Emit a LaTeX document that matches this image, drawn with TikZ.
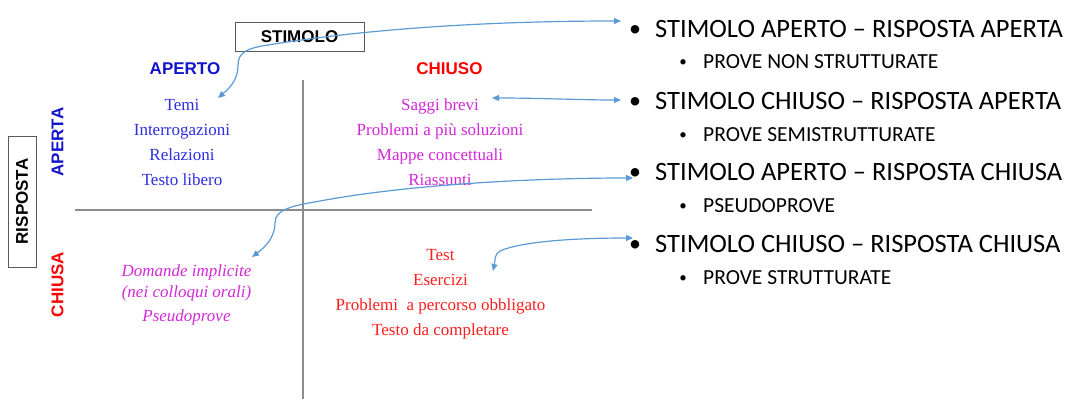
\documentclass[tikz,border=0pt]{standalone}
\usepackage{fontspec}
\setmainfont{Liberation Serif}
\newfontfamily\arialf{Liberation Sans}
\newfontfamily\calif{Carlito}
\usetikzlibrary{arrows.meta}
\definecolor{lblblue}{RGB}{20,20,205}
\definecolor{itblue}{RGB}{45,45,225}
\definecolor{itmag}{RGB}{210,40,215}
\definecolor{lblred}{RGB}{255,0,0}
\definecolor{itred}{RGB}{255,30,30}
\definecolor{arrblue}{RGB}{91,155,213}
\definecolor{axisgray}{RGB}{140,140,140}
\definecolor{boxgray}{RGB}{90,90,90}
\tikzset{
  lbl/.style={font=\arialf\bfseries\fontsize{17}{20}\selectfont, inner sep=0pt},
  item/.style={font=\fontsize{17}{20}\selectfont, inner sep=0pt, anchor=base},
  big/.style={font=\calif\fontsize{26.5}{30}\selectfont, inner sep=0pt, anchor=base west},
  small/.style={font=\calif\fontsize{21.5}{25}\selectfont, inner sep=0pt, anchor=base west},
  bigdot/.style={font=\calif\fontsize{24}{30}\selectfont, inner sep=0pt, anchor=base},
  smalldot/.style={font=\calif\fontsize{15}{25}\selectfont, inner sep=0pt, anchor=base},
  axis/.style={draw=axisgray, line width=1.4pt},
  conn/.style={draw=arrblue, line width=1.2pt, {Triangle[length=7pt,width=6pt]}-{Triangle[length=7pt,width=6pt]}},
  framebox/.style={draw=boxgray, line width=1pt, inner sep=0pt}
}
\begin{document}
\begin{tikzpicture}[x=1pt,y=-1pt]
\useasboundingbox (0,0) rectangle (1068,399);
% axes
\coordinate (vtop) at (303,80);
\coordinate (vbot) at (303,399);
\coordinate (hl) at (75,210);
\coordinate (hr) at (592,210);
\draw[axis] (vtop) -- (vbot);
\draw[axis] (hl) -- (hr);
% headers
\node[lbl, framebox, minimum width=129, minimum height=29] (stim) at (299.5,36.5) {STIMOLO};
\node[lbl, text=lblblue, anchor=base] (aperto) at (185,74) {APERTO};
\node[lbl, text=lblred, anchor=base] (chiuso) at (449.5,74) {CHIUSO};
\node[lbl, framebox, rotate=90, minimum width=131, minimum height=28] (risp) at (22,201.5) {RISPOSTA};
\node[lbl, text=lblblue, rotate=90] (aperta) at (57.5,142) {APERTA};
\node[lbl, text=lblred, rotate=90] (chiusa) at (57.5,284.5) {CHIUSA};
% quadrant items
\node[item, text=itblue] (temi) at (182,110) {Temi};
\node[item, text=itblue] (interr) at (182,135) {Interrogazioni};
\node[item, text=itblue] (relaz) at (182,160) {Relazioni};
\node[item, text=itblue] (testol) at (182,185) {Testo libero};
\node[item, text=itmag] (saggi) at (440,110) {Saggi brevi};
\node[item, text=itmag] (probl) at (440,135) {Problemi a più soluzioni};
\node[item, text=itmag] (mappe) at (440,160) {Mappe concettuali};
\node[item, text=itmag] (riass) at (440,185) {Riassunti};
\node[item, text=itmag, font=\itshape\fontsize{17}{20}\selectfont] (doman) at (186.5,276) {Domande implicite};
\node[item, text=itmag, font=\itshape\fontsize{17}{20}\selectfont] (nei) at (186.5,297) {(nei colloqui orali)};
\node[item, text=itmag, font=\itshape\fontsize{17}{20}\selectfont] (pseudo) at (186.5,321) {Pseudoprove};
\node[item, text=itred] (test) at (440.5,260) {Test};
\node[item, text=itred] (eserc) at (440.5,285) {Esercizi};
\node[item, text=itred] (probob) at (440.5,310) {Problemi\ \ a percorso obbligato};
\node[item, text=itred] (testoc) at (440.5,335) {Testo da completare};
% right list
\node[bigdot] (d1) at (635,36) {•};
\node[big] (t1) at (655,37) {STIMOLO APERTO – RISPOSTA APERTA};
\node[smalldot] (e1) at (683,66) {•};
\node[small] (s1) at (703,68) {PROVE NON STRUTTURATE};
\node[bigdot] (d2) at (635,108) {•};
\node[big] (t2) at (655,109) {STIMOLO CHIUSO – RISPOSTA APERTA};
\node[smalldot] (e2) at (683,139) {•};
\node[small] (s2) at (703,141) {PROVE SEMISTRUTTURATE};
\node[bigdot] (d3) at (635,179) {•};
\node[big] (t3) at (655,180) {STIMOLO APERTO – RISPOSTA CHIUSA};
\node[smalldot] (e3) at (683,210) {•};
\node[small] (s3) at (703,212) {PSEUDOPROVE};
\node[bigdot] (d4) at (635,251) {•};
\node[big] (t4) at (655,252) {STIMOLO CHIUSO – RISPOSTA CHIUSA};
\node[smalldot] (e4) at (683,282) {•};
\node[small] (s4) at (703,284) {PROVE STRUTTURATE};
% connector end points
\coordinate (a1s) at (218,98);
\coordinate (a1e) at (621,21);
\coordinate (a2s) at (492,98);
\coordinate (a2e) at (621,100);
\coordinate (a3s) at (252,257);
\coordinate (a3e) at (633,178);
\coordinate (a4s) at (493,271);
\coordinate (a4e) at (633,238);
% connectors
\draw[conn] (a1s) .. controls (232,86) and (238,78) .. (238,65)
  .. controls (238,52) and (248,48) .. (268,45)
  .. controls (360,30) and (480,21) .. (a1e);
\draw[conn] (a2s) .. controls (540,98) and (580,100) .. (a2e);
\draw[conn] (a3s) .. controls (268,245) and (275,235) .. (275,223)
  .. controls (275,210) and (290,206) .. (320,201)
  .. controls (400,186) and (520,178) .. (a3e);
\draw[conn] (a4s) .. controls (495,262) and (494,254) .. (500,251)
  .. controls (520,242) and (570,238) .. (a4e);
\end{tikzpicture}
\end{document}
